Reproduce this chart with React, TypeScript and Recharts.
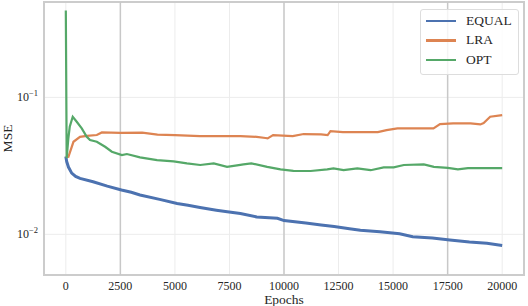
import {
  LineChart,
  Line,
  XAxis,
  YAxis,
  CartesianGrid,
  ReferenceLine,
  ReferenceArea,
  Legend,
  Label,
} from 'recharts';

const FONT = '"Liberation Serif", "DejaVu Serif", serif';
const TEXT = '#262626';

// x axis
const xTicks = [0, 2500, 5000, 7500, 10000, 12500, 15000, 17500, 20000];
const xDomain = [-1000, 21000];
// y axis (log)
const yTicks = [0.01, 0.1];
const yDomain = [0.00505, 0.497];

// EQUAL
const equalEpochs = [0, 40, 120, 270, 450, 650, 1250, 1900, 2550, 3000, 3400, 4300, 5100, 5600, 6150, 6900, 7400, 8000, 8750, 9700, 10000, 11000, 11700, 12300, 13000, 13500, 14400, 15300, 15900, 16800, 17600, 18500, 19300, 20000];
const equalMse = [0.037, 0.034, 0.031, 0.028, 0.0265, 0.0256, 0.0242, 0.0225, 0.0211, 0.0203, 0.0194, 0.018, 0.0168, 0.0163, 0.0157, 0.015, 0.0146, 0.0142, 0.0134, 0.0131, 0.0126, 0.0121, 0.0117, 0.0114, 0.011, 0.0107, 0.01045, 0.0101, 0.0096, 0.0094, 0.0091, 0.0088, 0.0086, 0.0083];

// LRA
const lraEpochs = [0, 120, 350, 650, 960, 1420, 1650, 2500, 3500, 4200, 5000, 6150, 8000, 8750, 9150, 9250, 9500, 10400, 10900, 11700, 12000, 12130, 12700, 13650, 14300, 14700, 15200, 16850, 17150, 17750, 18550, 19000, 19150, 19450, 20000];
const lraMse = [0.037, 0.0368, 0.0474, 0.0515, 0.0524, 0.0531, 0.0555, 0.0551, 0.0553, 0.0535, 0.053, 0.0522, 0.0522, 0.0515, 0.0505, 0.0502, 0.0531, 0.0522, 0.054, 0.0537, 0.0531, 0.0567, 0.0558, 0.0558, 0.0558, 0.0577, 0.0594, 0.0594, 0.0638, 0.0646, 0.0646, 0.0635, 0.065, 0.0722, 0.0743];

// OPT
const optEpochs = [0, 40, 115, 180, 317, 500, 730, 960, 1110, 1420, 1800, 2110, 2570, 2800, 3400, 4180, 4940, 5550, 6160, 6780, 7390, 8000, 8140, 8500, 9230, 9840, 10430, 11220, 11980, 12270, 12730, 13360, 13970, 14570, 15030, 15490, 16410, 16870, 17510, 17970, 18430, 20000];
const optMse = [0.43, 0.036, 0.05, 0.061, 0.0722, 0.0664, 0.0594, 0.0515, 0.0488, 0.0474, 0.0436, 0.0401, 0.0379, 0.0386, 0.0365, 0.0348, 0.0341, 0.033, 0.0321, 0.033, 0.0311, 0.0322, 0.0324, 0.033, 0.0311, 0.0298, 0.0291, 0.029, 0.0298, 0.0303, 0.0294, 0.0303, 0.0294, 0.0308, 0.0308, 0.0321, 0.0324, 0.0311, 0.0306, 0.0298, 0.0304, 0.0304];

const toPoints = (epochs: number[], mse: number[]) =>
  epochs.map((epoch, i) => ({ epoch, mse: mse[i] }));

const series = [
  { name: 'EQUAL', color: '#4c72b0', width: 3, data: toPoints(equalEpochs, equalMse) },
  { name: 'LRA', color: '#dd8452', width: 2.2, data: toPoints(lraEpochs, lraMse) },
  { name: 'OPT', color: '#55a868', width: 2.2, data: toPoints(optEpochs, optMse) },
];

// gridlines that render darker in the reference
const darkGrid = [2500, 10000, 17500];

function XTick({ x, y, payload }: any) {
  return (
    <text x={x} y={y + 15} textAnchor="middle" fontSize={12} style={{ fill: TEXT }} fontFamily={FONT}>
      {payload.value}
    </text>
  );
}

function LogTick({ x, y, payload }: any) {
  const exp = Math.round(Math.log10(payload.value));
  return (
    <text x={x - 6} y={y + 4} textAnchor="end" fontSize={12} style={{ fill: TEXT }} fontFamily={FONT}>
      <tspan style={{ fill: TEXT }}>10</tspan>
      <tspan dy={-5} fontSize={8.5} style={{ fill: TEXT }}>{'\u2212' + Math.abs(exp)}</tspan>
    </text>
  );
}

const xLabel = ({ viewBox }: any) => (
  <text x={viewBox.x + viewBox.width / 2} y={viewBox.y + 29} textAnchor="middle" fontSize={13.5} style={{ fill: TEXT }} fontFamily={FONT}>
    Epochs
  </text>
);

const yLabel = ({ viewBox }: any) => {
  const cy = viewBox.y + viewBox.height / 2;
  return (
    <text x={11.5} y={cy} transform={`rotate(-90 11.5 ${cy})`} textAnchor="middle" fontSize={13.5} style={{ fill: TEXT }} fontFamily={FONT}>
      MSE
    </text>
  );
};

const renderLegend = ({ payload }: any) => (
  <div
    style={{
      boxSizing: 'border-box',
      width: 99,
      border: '1px solid #dddddd',
      borderRadius: 3,
      background: 'rgba(255,255,255,0.8)',
      padding: '1px 5px 4px 5px',
      fontFamily: FONT,
      fontSize: 13.5,
      color: TEXT,
    }}
  >
    {(payload || []).map((p: any) => (
      <div key={p.value} style={{ display: 'flex', alignItems: 'center', height: 19.5 }}>
        <span style={{ display: 'inline-block', width: 30, height: 2.5, background: p.color, marginRight: 10 }} />
        <span>{p.value}</span>
      </div>
    ))}
  </div>
);

export default function App() {
  return (
    <div style={{ position: 'absolute', left: 0, top: 0, background: '#fff' }}>
      <LineChart width={528} height={306} margin={{ top: 2, right: 4, left: 0, bottom: 0 }}>
        <CartesianGrid stroke="#ececec" strokeWidth={1} />
        {darkGrid.map((v) => (
          <ReferenceLine key={v} x={v} stroke="#c8c8c8" strokeWidth={1.5} />
        ))}
        <XAxis
          type="number"
          dataKey="epoch"
          domain={xDomain}
          ticks={xTicks}
          allowDataOverflow
          axisLine={false}
          tickLine={false}
          tickSize={0}
          tickMargin={0}
          height={31}
          tick={<XTick />}
          label={<Label content={xLabel} />}
        />
        <YAxis
          type="number"
          dataKey="mse"
          scale="log"
          domain={yDomain}
          ticks={yTicks}
          allowDataOverflow
          axisLine={false}
          tickLine={false}
          tickSize={0}
          tickMargin={0}
          width={44}
          tick={<LogTick />}
          label={<Label content={yLabel} />}
        />
        <ReferenceArea
          x1={xDomain[0]}
          x2={xDomain[1]}
          y1={yDomain[0]}
          y2={yDomain[1]}
          fill="none"
          stroke="#cccccc"
          strokeWidth={2}
          ifOverflow="visible"
        />
        {series.map((s) => (
          <Line
            key={s.name}
            data={s.data}
            dataKey="mse"
            name={s.name}
            type="linear"
            stroke={s.color}
            strokeWidth={s.width}
            dot={false}
            activeDot={false}
            legendType="line"
            isAnimationActive={false}
          />
        ))}
        <Legend
          content={renderLegend}
          layout="horizontal"
          verticalAlign="middle"
          align="center"
          wrapperStyle={{ top: 9, left: 420, width: 99 }}
        />
      </LineChart>
    </div>
  );
}
